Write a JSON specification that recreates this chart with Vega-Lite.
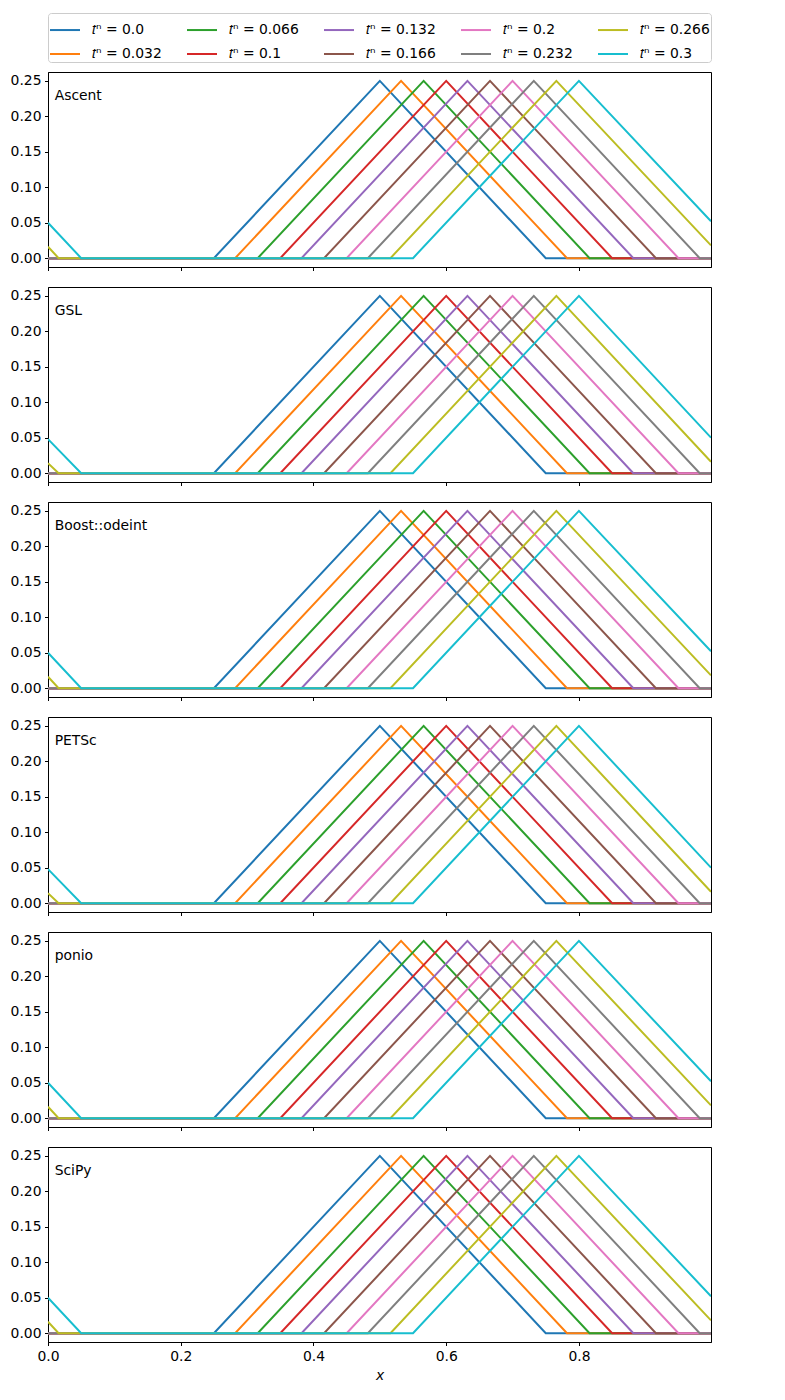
{
  "$schema": "https://vega.github.io/schema/vega-lite/v6.json",
  "padding": {"left": 9, "top": 12, "right": 5, "bottom": 5},
  "background": "white",
  "data": {"values": [
    {"s":"Ascent","t":"0.0","x":0,"u":0},{"s":"Ascent","t":"0.0","x":0.25,"u":0},{"s":"Ascent","t":"0.0","x":0.5,"u":0.25},{"s":"Ascent","t":"0.0","x":0.75,"u":0},{"s":"Ascent","t":"0.0","x":0.999,"u":0},
    {"s":"Ascent","t":"0.032","x":0,"u":0},{"s":"Ascent","t":"0.032","x":0.282,"u":0},{"s":"Ascent","t":"0.032","x":0.532,"u":0.25},{"s":"Ascent","t":"0.032","x":0.782,"u":0},{"s":"Ascent","t":"0.032","x":0.999,"u":0},
    {"s":"Ascent","t":"0.066","x":0,"u":0},{"s":"Ascent","t":"0.066","x":0.316,"u":0},{"s":"Ascent","t":"0.066","x":0.566,"u":0.25},{"s":"Ascent","t":"0.066","x":0.816,"u":0},{"s":"Ascent","t":"0.066","x":0.999,"u":0},
    {"s":"Ascent","t":"0.1","x":0,"u":0},{"s":"Ascent","t":"0.1","x":0.35,"u":0},{"s":"Ascent","t":"0.1","x":0.6,"u":0.25},{"s":"Ascent","t":"0.1","x":0.85,"u":0},{"s":"Ascent","t":"0.1","x":0.999,"u":0},
    {"s":"Ascent","t":"0.132","x":0,"u":0},{"s":"Ascent","t":"0.132","x":0.382,"u":0},{"s":"Ascent","t":"0.132","x":0.632,"u":0.25},{"s":"Ascent","t":"0.132","x":0.882,"u":0},{"s":"Ascent","t":"0.132","x":0.999,"u":0},
    {"s":"Ascent","t":"0.166","x":0,"u":0},{"s":"Ascent","t":"0.166","x":0.416,"u":0},{"s":"Ascent","t":"0.166","x":0.666,"u":0.25},{"s":"Ascent","t":"0.166","x":0.916,"u":0},{"s":"Ascent","t":"0.166","x":0.999,"u":0},
    {"s":"Ascent","t":"0.2","x":0,"u":0},{"s":"Ascent","t":"0.2","x":0.45,"u":0},{"s":"Ascent","t":"0.2","x":0.7,"u":0.25},{"s":"Ascent","t":"0.2","x":0.95,"u":0},{"s":"Ascent","t":"0.2","x":0.999,"u":0},
    {"s":"Ascent","t":"0.232","x":0,"u":0},{"s":"Ascent","t":"0.232","x":0.482,"u":0},{"s":"Ascent","t":"0.232","x":0.732,"u":0.25},{"s":"Ascent","t":"0.232","x":0.982,"u":0},{"s":"Ascent","t":"0.232","x":0.999,"u":0},
    {"s":"Ascent","t":"0.266","x":0,"u":0.016},{"s":"Ascent","t":"0.266","x":0.016,"u":0},{"s":"Ascent","t":"0.266","x":0.516,"u":0},{"s":"Ascent","t":"0.266","x":0.766,"u":0.25},{"s":"Ascent","t":"0.266","x":0.999,"u":0.018},
    {"s":"Ascent","t":"0.3","x":0,"u":0.05},{"s":"Ascent","t":"0.3","x":0.05,"u":0},{"s":"Ascent","t":"0.3","x":0.55,"u":0},{"s":"Ascent","t":"0.3","x":0.8,"u":0.25},{"s":"Ascent","t":"0.3","x":0.999,"u":0.052},

    {"s":"GSL","t":"0.0","x":0,"u":0},{"s":"GSL","t":"0.0","x":0.25,"u":0},{"s":"GSL","t":"0.0","x":0.5,"u":0.25},{"s":"GSL","t":"0.0","x":0.75,"u":0},{"s":"GSL","t":"0.0","x":0.999,"u":0},
    {"s":"GSL","t":"0.032","x":0,"u":0},{"s":"GSL","t":"0.032","x":0.282,"u":0},{"s":"GSL","t":"0.032","x":0.532,"u":0.25},{"s":"GSL","t":"0.032","x":0.782,"u":0},{"s":"GSL","t":"0.032","x":0.999,"u":0},
    {"s":"GSL","t":"0.066","x":0,"u":0},{"s":"GSL","t":"0.066","x":0.316,"u":0},{"s":"GSL","t":"0.066","x":0.566,"u":0.25},{"s":"GSL","t":"0.066","x":0.816,"u":0},{"s":"GSL","t":"0.066","x":0.999,"u":0},
    {"s":"GSL","t":"0.1","x":0,"u":0},{"s":"GSL","t":"0.1","x":0.35,"u":0},{"s":"GSL","t":"0.1","x":0.6,"u":0.25},{"s":"GSL","t":"0.1","x":0.85,"u":0},{"s":"GSL","t":"0.1","x":0.999,"u":0},
    {"s":"GSL","t":"0.132","x":0,"u":0},{"s":"GSL","t":"0.132","x":0.382,"u":0},{"s":"GSL","t":"0.132","x":0.632,"u":0.25},{"s":"GSL","t":"0.132","x":0.882,"u":0},{"s":"GSL","t":"0.132","x":0.999,"u":0},
    {"s":"GSL","t":"0.166","x":0,"u":0},{"s":"GSL","t":"0.166","x":0.416,"u":0},{"s":"GSL","t":"0.166","x":0.666,"u":0.25},{"s":"GSL","t":"0.166","x":0.916,"u":0},{"s":"GSL","t":"0.166","x":0.999,"u":0},
    {"s":"GSL","t":"0.2","x":0,"u":0},{"s":"GSL","t":"0.2","x":0.45,"u":0},{"s":"GSL","t":"0.2","x":0.7,"u":0.25},{"s":"GSL","t":"0.2","x":0.95,"u":0},{"s":"GSL","t":"0.2","x":0.999,"u":0},
    {"s":"GSL","t":"0.232","x":0,"u":0},{"s":"GSL","t":"0.232","x":0.482,"u":0},{"s":"GSL","t":"0.232","x":0.732,"u":0.25},{"s":"GSL","t":"0.232","x":0.982,"u":0},{"s":"GSL","t":"0.232","x":0.999,"u":0},
    {"s":"GSL","t":"0.266","x":0,"u":0.014},{"s":"GSL","t":"0.266","x":0.016,"u":0},{"s":"GSL","t":"0.266","x":0.516,"u":0},{"s":"GSL","t":"0.266","x":0.766,"u":0.25},{"s":"GSL","t":"0.266","x":0.999,"u":0.016},
    {"s":"GSL","t":"0.3","x":0,"u":0.048},{"s":"GSL","t":"0.3","x":0.05,"u":0},{"s":"GSL","t":"0.3","x":0.55,"u":0},{"s":"GSL","t":"0.3","x":0.8,"u":0.25},{"s":"GSL","t":"0.3","x":0.999,"u":0.05},

    {"s":"Boost::odeint","t":"0.0","x":0,"u":0},{"s":"Boost::odeint","t":"0.0","x":0.25,"u":0},{"s":"Boost::odeint","t":"0.0","x":0.5,"u":0.25},{"s":"Boost::odeint","t":"0.0","x":0.75,"u":0},{"s":"Boost::odeint","t":"0.0","x":0.999,"u":0},
    {"s":"Boost::odeint","t":"0.032","x":0,"u":0},{"s":"Boost::odeint","t":"0.032","x":0.282,"u":0},{"s":"Boost::odeint","t":"0.032","x":0.532,"u":0.25},{"s":"Boost::odeint","t":"0.032","x":0.782,"u":0},{"s":"Boost::odeint","t":"0.032","x":0.999,"u":0},
    {"s":"Boost::odeint","t":"0.066","x":0,"u":0},{"s":"Boost::odeint","t":"0.066","x":0.316,"u":0},{"s":"Boost::odeint","t":"0.066","x":0.566,"u":0.25},{"s":"Boost::odeint","t":"0.066","x":0.816,"u":0},{"s":"Boost::odeint","t":"0.066","x":0.999,"u":0},
    {"s":"Boost::odeint","t":"0.1","x":0,"u":0},{"s":"Boost::odeint","t":"0.1","x":0.35,"u":0},{"s":"Boost::odeint","t":"0.1","x":0.6,"u":0.25},{"s":"Boost::odeint","t":"0.1","x":0.85,"u":0},{"s":"Boost::odeint","t":"0.1","x":0.999,"u":0},
    {"s":"Boost::odeint","t":"0.132","x":0,"u":0},{"s":"Boost::odeint","t":"0.132","x":0.382,"u":0},{"s":"Boost::odeint","t":"0.132","x":0.632,"u":0.25},{"s":"Boost::odeint","t":"0.132","x":0.882,"u":0},{"s":"Boost::odeint","t":"0.132","x":0.999,"u":0},
    {"s":"Boost::odeint","t":"0.166","x":0,"u":0},{"s":"Boost::odeint","t":"0.166","x":0.416,"u":0},{"s":"Boost::odeint","t":"0.166","x":0.666,"u":0.25},{"s":"Boost::odeint","t":"0.166","x":0.916,"u":0},{"s":"Boost::odeint","t":"0.166","x":0.999,"u":0},
    {"s":"Boost::odeint","t":"0.2","x":0,"u":0},{"s":"Boost::odeint","t":"0.2","x":0.45,"u":0},{"s":"Boost::odeint","t":"0.2","x":0.7,"u":0.25},{"s":"Boost::odeint","t":"0.2","x":0.95,"u":0},{"s":"Boost::odeint","t":"0.2","x":0.999,"u":0},
    {"s":"Boost::odeint","t":"0.232","x":0,"u":0},{"s":"Boost::odeint","t":"0.232","x":0.482,"u":0},{"s":"Boost::odeint","t":"0.232","x":0.732,"u":0.25},{"s":"Boost::odeint","t":"0.232","x":0.982,"u":0},{"s":"Boost::odeint","t":"0.232","x":0.999,"u":0},
    {"s":"Boost::odeint","t":"0.266","x":0,"u":0.016},{"s":"Boost::odeint","t":"0.266","x":0.016,"u":0},{"s":"Boost::odeint","t":"0.266","x":0.516,"u":0},{"s":"Boost::odeint","t":"0.266","x":0.766,"u":0.25},{"s":"Boost::odeint","t":"0.266","x":0.999,"u":0.018},
    {"s":"Boost::odeint","t":"0.3","x":0,"u":0.05},{"s":"Boost::odeint","t":"0.3","x":0.05,"u":0},{"s":"Boost::odeint","t":"0.3","x":0.55,"u":0},{"s":"Boost::odeint","t":"0.3","x":0.8,"u":0.25},{"s":"Boost::odeint","t":"0.3","x":0.999,"u":0.052},

    {"s":"PETSc","t":"0.0","x":0,"u":0},{"s":"PETSc","t":"0.0","x":0.25,"u":0},{"s":"PETSc","t":"0.0","x":0.5,"u":0.25},{"s":"PETSc","t":"0.0","x":0.75,"u":0},{"s":"PETSc","t":"0.0","x":0.999,"u":0},
    {"s":"PETSc","t":"0.032","x":0,"u":0},{"s":"PETSc","t":"0.032","x":0.282,"u":0},{"s":"PETSc","t":"0.032","x":0.532,"u":0.25},{"s":"PETSc","t":"0.032","x":0.782,"u":0},{"s":"PETSc","t":"0.032","x":0.999,"u":0},
    {"s":"PETSc","t":"0.066","x":0,"u":0},{"s":"PETSc","t":"0.066","x":0.316,"u":0},{"s":"PETSc","t":"0.066","x":0.566,"u":0.25},{"s":"PETSc","t":"0.066","x":0.816,"u":0},{"s":"PETSc","t":"0.066","x":0.999,"u":0},
    {"s":"PETSc","t":"0.1","x":0,"u":0},{"s":"PETSc","t":"0.1","x":0.35,"u":0},{"s":"PETSc","t":"0.1","x":0.6,"u":0.25},{"s":"PETSc","t":"0.1","x":0.85,"u":0},{"s":"PETSc","t":"0.1","x":0.999,"u":0},
    {"s":"PETSc","t":"0.132","x":0,"u":0},{"s":"PETSc","t":"0.132","x":0.382,"u":0},{"s":"PETSc","t":"0.132","x":0.632,"u":0.25},{"s":"PETSc","t":"0.132","x":0.882,"u":0},{"s":"PETSc","t":"0.132","x":0.999,"u":0},
    {"s":"PETSc","t":"0.166","x":0,"u":0},{"s":"PETSc","t":"0.166","x":0.416,"u":0},{"s":"PETSc","t":"0.166","x":0.666,"u":0.25},{"s":"PETSc","t":"0.166","x":0.916,"u":0},{"s":"PETSc","t":"0.166","x":0.999,"u":0},
    {"s":"PETSc","t":"0.2","x":0,"u":0},{"s":"PETSc","t":"0.2","x":0.45,"u":0},{"s":"PETSc","t":"0.2","x":0.7,"u":0.25},{"s":"PETSc","t":"0.2","x":0.95,"u":0},{"s":"PETSc","t":"0.2","x":0.999,"u":0},
    {"s":"PETSc","t":"0.232","x":0,"u":0},{"s":"PETSc","t":"0.232","x":0.482,"u":0},{"s":"PETSc","t":"0.232","x":0.732,"u":0.25},{"s":"PETSc","t":"0.232","x":0.982,"u":0},{"s":"PETSc","t":"0.232","x":0.999,"u":0},
    {"s":"PETSc","t":"0.266","x":0,"u":0.014},{"s":"PETSc","t":"0.266","x":0.016,"u":0},{"s":"PETSc","t":"0.266","x":0.516,"u":0},{"s":"PETSc","t":"0.266","x":0.766,"u":0.25},{"s":"PETSc","t":"0.266","x":0.999,"u":0.016},
    {"s":"PETSc","t":"0.3","x":0,"u":0.048},{"s":"PETSc","t":"0.3","x":0.05,"u":0},{"s":"PETSc","t":"0.3","x":0.55,"u":0},{"s":"PETSc","t":"0.3","x":0.8,"u":0.25},{"s":"PETSc","t":"0.3","x":0.999,"u":0.05},

    {"s":"ponio","t":"0.0","x":0,"u":0},{"s":"ponio","t":"0.0","x":0.25,"u":0},{"s":"ponio","t":"0.0","x":0.5,"u":0.25},{"s":"ponio","t":"0.0","x":0.75,"u":0},{"s":"ponio","t":"0.0","x":0.999,"u":0},
    {"s":"ponio","t":"0.032","x":0,"u":0},{"s":"ponio","t":"0.032","x":0.282,"u":0},{"s":"ponio","t":"0.032","x":0.532,"u":0.25},{"s":"ponio","t":"0.032","x":0.782,"u":0},{"s":"ponio","t":"0.032","x":0.999,"u":0},
    {"s":"ponio","t":"0.066","x":0,"u":0},{"s":"ponio","t":"0.066","x":0.316,"u":0},{"s":"ponio","t":"0.066","x":0.566,"u":0.25},{"s":"ponio","t":"0.066","x":0.816,"u":0},{"s":"ponio","t":"0.066","x":0.999,"u":0},
    {"s":"ponio","t":"0.1","x":0,"u":0},{"s":"ponio","t":"0.1","x":0.35,"u":0},{"s":"ponio","t":"0.1","x":0.6,"u":0.25},{"s":"ponio","t":"0.1","x":0.85,"u":0},{"s":"ponio","t":"0.1","x":0.999,"u":0},
    {"s":"ponio","t":"0.132","x":0,"u":0},{"s":"ponio","t":"0.132","x":0.382,"u":0},{"s":"ponio","t":"0.132","x":0.632,"u":0.25},{"s":"ponio","t":"0.132","x":0.882,"u":0},{"s":"ponio","t":"0.132","x":0.999,"u":0},
    {"s":"ponio","t":"0.166","x":0,"u":0},{"s":"ponio","t":"0.166","x":0.416,"u":0},{"s":"ponio","t":"0.166","x":0.666,"u":0.25},{"s":"ponio","t":"0.166","x":0.916,"u":0},{"s":"ponio","t":"0.166","x":0.999,"u":0},
    {"s":"ponio","t":"0.2","x":0,"u":0},{"s":"ponio","t":"0.2","x":0.45,"u":0},{"s":"ponio","t":"0.2","x":0.7,"u":0.25},{"s":"ponio","t":"0.2","x":0.95,"u":0},{"s":"ponio","t":"0.2","x":0.999,"u":0},
    {"s":"ponio","t":"0.232","x":0,"u":0},{"s":"ponio","t":"0.232","x":0.482,"u":0},{"s":"ponio","t":"0.232","x":0.732,"u":0.25},{"s":"ponio","t":"0.232","x":0.982,"u":0},{"s":"ponio","t":"0.232","x":0.999,"u":0},
    {"s":"ponio","t":"0.266","x":0,"u":0.016},{"s":"ponio","t":"0.266","x":0.016,"u":0},{"s":"ponio","t":"0.266","x":0.516,"u":0},{"s":"ponio","t":"0.266","x":0.766,"u":0.25},{"s":"ponio","t":"0.266","x":0.999,"u":0.018},
    {"s":"ponio","t":"0.3","x":0,"u":0.05},{"s":"ponio","t":"0.3","x":0.05,"u":0},{"s":"ponio","t":"0.3","x":0.55,"u":0},{"s":"ponio","t":"0.3","x":0.8,"u":0.25},{"s":"ponio","t":"0.3","x":0.999,"u":0.052},

    {"s":"SciPy","t":"0.0","x":0,"u":0},{"s":"SciPy","t":"0.0","x":0.25,"u":0},{"s":"SciPy","t":"0.0","x":0.5,"u":0.25},{"s":"SciPy","t":"0.0","x":0.75,"u":0},{"s":"SciPy","t":"0.0","x":0.999,"u":0},
    {"s":"SciPy","t":"0.032","x":0,"u":0},{"s":"SciPy","t":"0.032","x":0.282,"u":0},{"s":"SciPy","t":"0.032","x":0.532,"u":0.25},{"s":"SciPy","t":"0.032","x":0.782,"u":0},{"s":"SciPy","t":"0.032","x":0.999,"u":0},
    {"s":"SciPy","t":"0.066","x":0,"u":0},{"s":"SciPy","t":"0.066","x":0.316,"u":0},{"s":"SciPy","t":"0.066","x":0.566,"u":0.25},{"s":"SciPy","t":"0.066","x":0.816,"u":0},{"s":"SciPy","t":"0.066","x":0.999,"u":0},
    {"s":"SciPy","t":"0.1","x":0,"u":0},{"s":"SciPy","t":"0.1","x":0.35,"u":0},{"s":"SciPy","t":"0.1","x":0.6,"u":0.25},{"s":"SciPy","t":"0.1","x":0.85,"u":0},{"s":"SciPy","t":"0.1","x":0.999,"u":0},
    {"s":"SciPy","t":"0.132","x":0,"u":0},{"s":"SciPy","t":"0.132","x":0.382,"u":0},{"s":"SciPy","t":"0.132","x":0.632,"u":0.25},{"s":"SciPy","t":"0.132","x":0.882,"u":0},{"s":"SciPy","t":"0.132","x":0.999,"u":0},
    {"s":"SciPy","t":"0.166","x":0,"u":0},{"s":"SciPy","t":"0.166","x":0.416,"u":0},{"s":"SciPy","t":"0.166","x":0.666,"u":0.25},{"s":"SciPy","t":"0.166","x":0.916,"u":0},{"s":"SciPy","t":"0.166","x":0.999,"u":0},
    {"s":"SciPy","t":"0.2","x":0,"u":0},{"s":"SciPy","t":"0.2","x":0.45,"u":0},{"s":"SciPy","t":"0.2","x":0.7,"u":0.25},{"s":"SciPy","t":"0.2","x":0.95,"u":0},{"s":"SciPy","t":"0.2","x":0.999,"u":0},
    {"s":"SciPy","t":"0.232","x":0,"u":0},{"s":"SciPy","t":"0.232","x":0.482,"u":0},{"s":"SciPy","t":"0.232","x":0.732,"u":0.25},{"s":"SciPy","t":"0.232","x":0.982,"u":0},{"s":"SciPy","t":"0.232","x":0.999,"u":0},
    {"s":"SciPy","t":"0.266","x":0,"u":0.016},{"s":"SciPy","t":"0.266","x":0.016,"u":0},{"s":"SciPy","t":"0.266","x":0.516,"u":0},{"s":"SciPy","t":"0.266","x":0.766,"u":0.25},{"s":"SciPy","t":"0.266","x":0.999,"u":0.018},
    {"s":"SciPy","t":"0.3","x":0,"u":0.05},{"s":"SciPy","t":"0.3","x":0.05,"u":0},{"s":"SciPy","t":"0.3","x":0.55,"u":0},{"s":"SciPy","t":"0.3","x":0.8,"u":0.25},{"s":"SciPy","t":"0.3","x":0.999,"u":0.052}
  ]},
  "spacing": 20,
  "bounds": "flush",
  "vconcat": [
    {"width": 663, "height": 195, "layer": [
      {"transform": [{"filter": "datum.s === 'Ascent'"}], "mark": {"type": "line", "strokeWidth": 2, "clip": true},
       "encoding": {
         "x": {"field": "x", "type": "quantitative", "scale": {"domain": [0, 0.999], "nice": false, "zero": false}, "axis": {"values": [0, 0.2, 0.4, 0.6, 0.8], "labels": false, "title": null}},
         "y": {"field": "u", "type": "quantitative", "scale": {"domain": [-0.0125, 0.2625], "nice": false, "zero": false}, "axis": {"values": [0, 0.05, 0.1, 0.15, 0.2, 0.25], "format": ".2f", "title": null}},
         "color": {"field": "t", "type": "nominal", "scale": {"domain": ["0.0", "0.066", "0.132", "0.2", "0.266", "0.032", "0.1", "0.166", "0.232", "0.3"], "range": ["#1f77b4", "#2ca02c", "#9467bd", "#e377c2", "#bcbd22", "#ff7f0e", "#d62728", "#8c564b", "#7f7f7f", "#17becf"]}, "legend": {"labelExpr": "'𝑡ⁿ = ' + datum.label"}}}},
      {"data": {"values": [{"s": "Ascent"}]}, "mark": {"type": "text", "align": "left", "baseline": "middle", "fontSize": 13.9, "font": "DejaVu Sans", "color": "black"},
       "encoding": {"x": {"datum": 0.01, "type": "quantitative", "axis": {"values": [0, 0.2, 0.4, 0.6, 0.8], "labels": false, "title": null}}, "y": {"datum": 0.229, "type": "quantitative", "axis": {"values": [0, 0.05, 0.1, 0.15, 0.2, 0.25], "format": ".2f", "title": null}}, "text": {"field": "s"}}}
    ]},
    {"width": 663, "height": 195, "layer": [
      {"transform": [{"filter": "datum.s === 'GSL'"}], "mark": {"type": "line", "strokeWidth": 2, "clip": true},
       "encoding": {
         "x": {"field": "x", "type": "quantitative", "scale": {"domain": [0, 0.999], "nice": false, "zero": false}, "axis": {"values": [0, 0.2, 0.4, 0.6, 0.8], "labels": false, "title": null}},
         "y": {"field": "u", "type": "quantitative", "scale": {"domain": [-0.0125, 0.2625], "nice": false, "zero": false}, "axis": {"values": [0, 0.05, 0.1, 0.15, 0.2, 0.25], "format": ".2f", "title": null}},
         "color": {"field": "t", "type": "nominal"}}},
      {"data": {"values": [{"s": "GSL"}]}, "mark": {"type": "text", "align": "left", "baseline": "middle", "fontSize": 13.9, "font": "DejaVu Sans", "color": "black"},
       "encoding": {"x": {"datum": 0.01, "type": "quantitative", "axis": {"values": [0, 0.2, 0.4, 0.6, 0.8], "labels": false, "title": null}}, "y": {"datum": 0.229, "type": "quantitative", "axis": {"values": [0, 0.05, 0.1, 0.15, 0.2, 0.25], "format": ".2f", "title": null}}, "text": {"field": "s"}}}
    ]},
    {"width": 663, "height": 195, "layer": [
      {"transform": [{"filter": "datum.s === 'Boost::odeint'"}], "mark": {"type": "line", "strokeWidth": 2, "clip": true},
       "encoding": {
         "x": {"field": "x", "type": "quantitative", "scale": {"domain": [0, 0.999], "nice": false, "zero": false}, "axis": {"values": [0, 0.2, 0.4, 0.6, 0.8], "labels": false, "title": null}},
         "y": {"field": "u", "type": "quantitative", "scale": {"domain": [-0.0125, 0.2625], "nice": false, "zero": false}, "axis": {"values": [0, 0.05, 0.1, 0.15, 0.2, 0.25], "format": ".2f", "title": null}},
         "color": {"field": "t", "type": "nominal"}}},
      {"data": {"values": [{"s": "Boost::odeint"}]}, "mark": {"type": "text", "align": "left", "baseline": "middle", "fontSize": 13.9, "font": "DejaVu Sans", "color": "black"},
       "encoding": {"x": {"datum": 0.01, "type": "quantitative", "axis": {"values": [0, 0.2, 0.4, 0.6, 0.8], "labels": false, "title": null}}, "y": {"datum": 0.229, "type": "quantitative", "axis": {"values": [0, 0.05, 0.1, 0.15, 0.2, 0.25], "format": ".2f", "title": null}}, "text": {"field": "s"}}}
    ]},
    {"width": 663, "height": 195, "layer": [
      {"transform": [{"filter": "datum.s === 'PETSc'"}], "mark": {"type": "line", "strokeWidth": 2, "clip": true},
       "encoding": {
         "x": {"field": "x", "type": "quantitative", "scale": {"domain": [0, 0.999], "nice": false, "zero": false}, "axis": {"values": [0, 0.2, 0.4, 0.6, 0.8], "labels": false, "title": null}},
         "y": {"field": "u", "type": "quantitative", "scale": {"domain": [-0.0125, 0.2625], "nice": false, "zero": false}, "axis": {"values": [0, 0.05, 0.1, 0.15, 0.2, 0.25], "format": ".2f", "title": null}},
         "color": {"field": "t", "type": "nominal"}}},
      {"data": {"values": [{"s": "PETSc"}]}, "mark": {"type": "text", "align": "left", "baseline": "middle", "fontSize": 13.9, "font": "DejaVu Sans", "color": "black"},
       "encoding": {"x": {"datum": 0.01, "type": "quantitative", "axis": {"values": [0, 0.2, 0.4, 0.6, 0.8], "labels": false, "title": null}}, "y": {"datum": 0.229, "type": "quantitative", "axis": {"values": [0, 0.05, 0.1, 0.15, 0.2, 0.25], "format": ".2f", "title": null}}, "text": {"field": "s"}}}
    ]},
    {"width": 663, "height": 195, "layer": [
      {"transform": [{"filter": "datum.s === 'ponio'"}], "mark": {"type": "line", "strokeWidth": 2, "clip": true},
       "encoding": {
         "x": {"field": "x", "type": "quantitative", "scale": {"domain": [0, 0.999], "nice": false, "zero": false}, "axis": {"values": [0, 0.2, 0.4, 0.6, 0.8], "labels": false, "title": null}},
         "y": {"field": "u", "type": "quantitative", "scale": {"domain": [-0.0125, 0.2625], "nice": false, "zero": false}, "axis": {"values": [0, 0.05, 0.1, 0.15, 0.2, 0.25], "format": ".2f", "title": null}},
         "color": {"field": "t", "type": "nominal"}}},
      {"data": {"values": [{"s": "ponio"}]}, "mark": {"type": "text", "align": "left", "baseline": "middle", "fontSize": 13.9, "font": "DejaVu Sans", "color": "black"},
       "encoding": {"x": {"datum": 0.01, "type": "quantitative", "axis": {"values": [0, 0.2, 0.4, 0.6, 0.8], "labels": false, "title": null}}, "y": {"datum": 0.229, "type": "quantitative", "axis": {"values": [0, 0.05, 0.1, 0.15, 0.2, 0.25], "format": ".2f", "title": null}}, "text": {"field": "s"}}}
    ]},
    {"width": 663, "height": 195, "layer": [
      {"transform": [{"filter": "datum.s === 'SciPy'"}], "mark": {"type": "line", "strokeWidth": 2, "clip": true},
       "encoding": {
         "x": {"field": "x", "type": "quantitative", "scale": {"domain": [0, 0.999], "nice": false, "zero": false}, "axis": {"values": [0, 0.2, 0.4, 0.6, 0.8], "format": ".1f", "title": "x", "titleFontStyle": "italic"}},
         "y": {"field": "u", "type": "quantitative", "scale": {"domain": [-0.0125, 0.2625], "nice": false, "zero": false}, "axis": {"values": [0, 0.05, 0.1, 0.15, 0.2, 0.25], "format": ".2f", "title": null}},
         "color": {"field": "t", "type": "nominal"}}},
      {"data": {"values": [{"s": "SciPy"}]}, "mark": {"type": "text", "align": "left", "baseline": "middle", "fontSize": 13.9, "font": "DejaVu Sans", "color": "black"},
       "encoding": {"x": {"datum": 0.01, "type": "quantitative", "axis": {"values": [0, 0.2, 0.4, 0.6, 0.8], "format": ".1f", "title": "x", "titleFontStyle": "italic"}}, "y": {"datum": 0.229, "type": "quantitative", "axis": {"values": [0, 0.05, 0.1, 0.15, 0.2, 0.25], "format": ".2f", "title": null}}, "text": {"field": "s"}}}
    ]}
  ],
  "resolve": {"scale": {"color": "shared"}},
  "config": {
    "font": "DejaVu Sans",
    "view": {"stroke": "black", "strokeWidth": 1},
    "axis": {"grid": false, "labelFont": "DejaVu Sans", "labelFontSize": 13.9, "labelColor": "black", "tickColor": "black", "domainColor": "black", "tickSize": 3.5, "labelPadding": 3.5, "labelOverlap": false, "labelFlush": false, "titleFont": "DejaVu Sans", "titleFontSize": 13.9, "titleFontWeight": "normal", "titleColor": "black", "titlePadding": 6},
    "legend": {"orient": "top", "columns": 5, "title": null, "symbolType": "stroke", "symbolSize": 900, "symbolStrokeWidth": 2, "labelFont": "DejaVu Sans", "labelFontSize": 13.9, "labelColor": "black", "labelOffset": 11, "columnPadding": 21, "rowPadding": 1, "padding": 1, "strokeColor": "#cccccc", "cornerRadius": 3, "fillColor": "white", "offset": 9}
  }
}
